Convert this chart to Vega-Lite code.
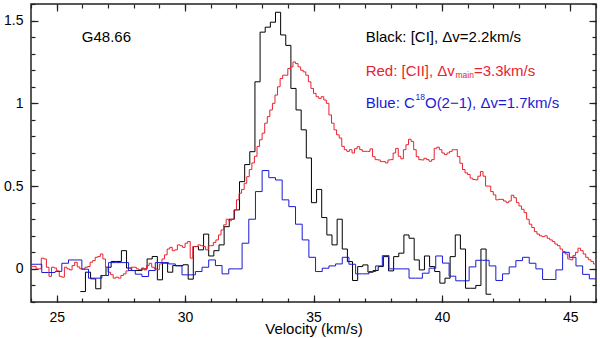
{
"$schema": "https://vega.github.io/schema/vega-lite/v6.json",
"width": 565, "height": 298,
"padding": {"left": 31, "top": 4, "right": 4, "bottom": 36},
"autosize": {"type": "none"},
"background": "white",
"config": {
  "view": {"stroke": "#222222", "strokeWidth": 1.5},
  "axis": {"grid": false, "domain": false, "tickColor": "#222222", "tickWidth": 1.2, "labelColor": "#000", "labelFont": "Liberation Sans", "labelFontSize": 14, "titleFont": "Liberation Sans", "titleFontSize": 15, "titleColor": "#000", "titleFontWeight": "normal"}
},
"datasets": {
"ci": [
{"v":25.92,"T":-0.137},{"v":26.12,"T":-0.02},{"v":26.32,"T":-0.06},{"v":26.52,"T":-0.12},{"v":26.72,"T":-0.04},{"v":26.92,"T":0.01},{"v":27.12,"T":0.045},{"v":27.32,"T":0.045},{"v":27.52,"T":0.11},{"v":27.72,"T":0.005},
{"v":27.92,"T":-0.01},{"v":28.12,"T":-0.01},{"v":28.32,"T":0.0},{"v":28.52,"T":0.06},{"v":28.72,"T":0.075},{"v":28.92,"T":-0.066},{"v":29.12,"T":0.035},{"v":29.32,"T":-0.02},{"v":29.52,"T":0.02},{"v":29.72,"T":0.02},
{"v":29.92,"T":0.025},{"v":30.12,"T":-0.062},{"v":30.32,"T":0.135},{"v":30.52,"T":0.115},{"v":30.72,"T":0.21},{"v":30.92,"T":0.078},{"v":31.12,"T":0.11},{"v":31.32,"T":0.145},{"v":31.52,"T":0.255},{"v":31.72,"T":0.30},
{"v":31.92,"T":0.356},{"v":32.12,"T":0.527},{"v":32.32,"T":0.63},{"v":32.52,"T":0.708},{"v":32.72,"T":1.13},{"v":32.92,"T":1.43},{"v":33.12,"T":1.46},{"v":33.32,"T":1.49},{"v":33.52,"T":1.55},{"v":33.72,"T":1.413},
{"v":33.92,"T":1.35},{"v":34.12,"T":1.09},{"v":34.32,"T":0.96},{"v":34.52,"T":0.84},{"v":34.72,"T":0.67},{"v":34.92,"T":0.40},{"v":35.12,"T":0.48},{"v":35.32,"T":0.31},{"v":35.52,"T":0.205},{"v":35.72,"T":0.145},
{"v":35.92,"T":0.30},{"v":36.12,"T":0.12},{"v":36.32,"T":0.044},{"v":36.52,"T":-0.07},{"v":36.72,"T":0.014},{"v":36.92,"T":0.024},{"v":37.12,"T":-0.02},{"v":37.32,"T":-0.01},{"v":37.52,"T":0.014},{"v":37.72,"T":0.074},
{"v":37.92,"T":-0.012},{"v":38.12,"T":0.074},{"v":38.32,"T":0.095},{"v":38.52,"T":0.205},{"v":38.72,"T":0.185},{"v":38.92,"T":0.054},{"v":39.12,"T":-0.006},{"v":39.32,"T":0.078},{"v":39.52,"T":0.014},{"v":39.72,"T":-0.016},
{"v":39.92,"T":-0.086},{"v":40.12,"T":-0.056},{"v":40.32,"T":0.074},{"v":40.52,"T":0.205},{"v":40.72,"T":0.12},{"v":40.92,"T":-0.117},{"v":41.12,"T":-0.117},{"v":41.32,"T":-0.10},{"v":41.52,"T":0.12},{"v":41.72,"T":-0.153},
{"v":41.92,"T":-0.153}
],
"cii": [
{"v":24.0,"T":0.015},{"v":24.1,"T":0.015},{"v":24.2,"T":0.0},{"v":24.3,"T":0.0},{"v":24.4,"T":0.065},{"v":24.5,"T":0.06},{"v":24.6,"T":0.01},{"v":24.7,"T":-0.045},{"v":24.8,"T":0.01},{"v":24.9,"T":0.005},
{"v":25.0,"T":-0.012},{"v":25.1,"T":-0.045},{"v":25.2,"T":-0.05},{"v":25.3,"T":0.01},{"v":25.4,"T":0.0},{"v":25.5,"T":-0.006},{"v":25.6,"T":0.02},{"v":25.7,"T":0.04},{"v":25.8,"T":0.012},{"v":25.9,"T":0.0},
{"v":26.0,"T":0.0},{"v":26.1,"T":0.01},{"v":26.2,"T":0.014},{"v":26.3,"T":0.04},{"v":26.4,"T":0.05},{"v":26.5,"T":0.07},{"v":26.6,"T":0.075},{"v":26.7,"T":0.09},{"v":26.8,"T":0.06},{"v":26.9,"T":0.01},
{"v":27.0,"T":-0.02},{"v":27.1,"T":-0.035},{"v":27.2,"T":-0.056},{"v":27.3,"T":-0.05},{"v":27.4,"T":-0.056},{"v":27.5,"T":-0.04},{"v":27.6,"T":-0.03},{"v":27.7,"T":-0.012},{"v":27.8,"T":-0.01},{"v":27.9,"T":0.01},
{"v":28.0,"T":0.01},{"v":28.1,"T":0.0},{"v":28.2,"T":-0.005},{"v":28.3,"T":0.005},{"v":28.4,"T":-0.006},{"v":28.5,"T":0.02},{"v":28.6,"T":0.034},{"v":28.7,"T":0.01},{"v":28.8,"T":0.0},{"v":28.9,"T":-0.005},
{"v":29.0,"T":0.03},{"v":29.1,"T":0.06},{"v":29.2,"T":0.085},{"v":29.3,"T":0.12},{"v":29.4,"T":0.13},{"v":29.5,"T":0.11},{"v":29.6,"T":0.115},{"v":29.7,"T":0.145},{"v":29.8,"T":0.14},{"v":29.9,"T":0.13},
{"v":30.0,"T":0.155},{"v":30.1,"T":0.165},{"v":30.2,"T":0.065},{"v":30.3,"T":0.135},{"v":30.4,"T":0.135},{"v":30.5,"T":0.145},{"v":30.6,"T":0.14},{"v":30.7,"T":0.135},{"v":30.8,"T":0.115},{"v":30.9,"T":0.14},
{"v":31.0,"T":0.14},{"v":31.1,"T":0.16},{"v":31.2,"T":0.175},{"v":31.3,"T":0.205},{"v":31.4,"T":0.235},{"v":31.5,"T":0.266},{"v":31.6,"T":0.30},{"v":31.7,"T":0.29},{"v":31.8,"T":0.30},{"v":31.9,"T":0.356},
{"v":32.0,"T":0.417},{"v":32.1,"T":0.457},{"v":32.2,"T":0.48},{"v":32.3,"T":0.517},{"v":32.4,"T":0.557},{"v":32.5,"T":0.60},{"v":32.6,"T":0.64},{"v":32.7,"T":0.68},{"v":32.8,"T":0.74},{"v":32.9,"T":0.78},
{"v":33.0,"T":0.82},{"v":33.1,"T":0.88},{"v":33.2,"T":0.92},{"v":33.3,"T":0.96},{"v":33.4,"T":1.0},{"v":33.5,"T":1.05},{"v":33.6,"T":1.10},{"v":33.7,"T":1.15},{"v":33.8,"T":1.17},{"v":33.9,"T":1.17},
{"v":34.0,"T":1.21},{"v":34.1,"T":1.22},{"v":34.2,"T":1.25},{"v":34.3,"T":1.24},{"v":34.4,"T":1.22},{"v":34.5,"T":1.20},{"v":34.6,"T":1.19},{"v":34.7,"T":1.17},{"v":34.8,"T":1.13},{"v":34.9,"T":1.09},
{"v":35.0,"T":1.06},{"v":35.1,"T":1.04},{"v":35.2,"T":1.03},{"v":35.3,"T":1.04},{"v":35.4,"T":1.02},{"v":35.5,"T":1.0},{"v":35.6,"T":0.93},{"v":35.7,"T":0.88},{"v":35.8,"T":0.84},{"v":35.9,"T":0.81},
{"v":36.0,"T":0.79},{"v":36.1,"T":0.74},{"v":36.2,"T":0.72},{"v":36.3,"T":0.71},{"v":36.4,"T":0.72},{"v":36.5,"T":0.70},{"v":36.6,"T":0.726},{"v":36.7,"T":0.738},{"v":36.8,"T":0.72},{"v":36.9,"T":0.71},
{"v":37.0,"T":0.71},{"v":37.1,"T":0.71},{"v":37.2,"T":0.725},{"v":37.3,"T":0.678},{"v":37.4,"T":0.66},{"v":37.5,"T":0.658},{"v":37.6,"T":0.648},{"v":37.7,"T":0.648},{"v":37.8,"T":0.64},{"v":37.9,"T":0.658},
{"v":38.0,"T":0.66},{"v":38.1,"T":0.70},{"v":38.2,"T":0.728},{"v":38.3,"T":0.68},{"v":38.4,"T":0.665},{"v":38.5,"T":0.72},{"v":38.6,"T":0.75},{"v":38.7,"T":0.783},{"v":38.8,"T":0.77},{"v":38.9,"T":0.72},
{"v":39.0,"T":0.678},{"v":39.1,"T":0.66},{"v":39.2,"T":0.658},{"v":39.3,"T":0.668},{"v":39.4,"T":0.66},{"v":39.5,"T":0.65},{"v":39.6,"T":0.66},{"v":39.7,"T":0.728},{"v":39.8,"T":0.735},{"v":39.9,"T":0.72},
{"v":40.0,"T":0.70},{"v":40.1,"T":0.69},{"v":40.2,"T":0.70},{"v":40.3,"T":0.71},{"v":40.4,"T":0.72},{"v":40.5,"T":0.72},{"v":40.6,"T":0.678},{"v":40.7,"T":0.638},{"v":40.8,"T":0.60},{"v":40.9,"T":0.58},
{"v":41.0,"T":0.57},{"v":41.1,"T":0.548},{"v":41.2,"T":0.54},{"v":41.3,"T":0.538},{"v":41.4,"T":0.56},{"v":41.5,"T":0.588},{"v":41.6,"T":0.56},{"v":41.7,"T":0.50},{"v":41.8,"T":0.50},{"v":41.9,"T":0.467},
{"v":42.0,"T":0.447},{"v":42.1,"T":0.417},{"v":42.2,"T":0.42},{"v":42.3,"T":0.42},{"v":42.4,"T":0.41},{"v":42.5,"T":0.40},{"v":42.6,"T":0.41},{"v":42.7,"T":0.445},{"v":42.8,"T":0.43},{"v":42.9,"T":0.40},
{"v":43.0,"T":0.38},{"v":43.1,"T":0.36},{"v":43.2,"T":0.34},{"v":43.3,"T":0.30},{"v":43.4,"T":0.27},{"v":43.5,"T":0.25},{"v":43.6,"T":0.225},{"v":43.7,"T":0.21},{"v":43.8,"T":0.2},{"v":43.9,"T":0.195},
{"v":44.0,"T":0.2},{"v":44.1,"T":0.185},{"v":44.2,"T":0.175},{"v":44.3,"T":0.165},{"v":44.4,"T":0.15},{"v":44.5,"T":0.14},{"v":44.6,"T":0.12},{"v":44.7,"T":0.105},{"v":44.8,"T":0.09},{"v":44.9,"T":0.06},
{"v":45.0,"T":0.055},{"v":45.1,"T":0.08},{"v":45.2,"T":0.10},{"v":45.3,"T":0.125},{"v":45.4,"T":0.11},{"v":45.5,"T":0.09},{"v":45.6,"T":0.07},{"v":45.7,"T":0.055},{"v":45.8,"T":0.045},{"v":45.9,"T":0.03},
{"v":46.0,"T":0.03}
],
"c18o": [
{"v":24.0,"T":0.028},{"v":24.16,"T":0.028},{"v":24.42,"T":-0.022},{"v":24.68,"T":-0.022},{"v":24.94,"T":-0.015},{"v":25.2,"T":0.034},{"v":25.46,"T":0.054},{"v":25.72,"T":0.054},{"v":25.98,"T":-0.002},{"v":26.24,"T":-0.056},
{"v":26.5,"T":-0.056},{"v":26.76,"T":-0.04},{"v":27.02,"T":0.038},{"v":27.28,"T":0.038},{"v":27.54,"T":0.038},{"v":27.8,"T":-0.01},{"v":28.06,"T":-0.032},{"v":28.32,"T":-0.046},{"v":28.58,"T":-0.01},{"v":28.84,"T":0.038},
{"v":29.1,"T":0.038},{"v":29.36,"T":0.03},{"v":29.62,"T":0.018},{"v":29.88,"T":-0.036},{"v":30.14,"T":-0.036},{"v":30.4,"T":-0.016},{"v":30.66,"T":0.01},{"v":30.92,"T":0.054},{"v":31.18,"T":0.02},{"v":31.44,"T":-0.03},
{"v":31.7,"T":0.0},{"v":31.96,"T":0.0},{"v":32.22,"T":0.155},{"v":32.48,"T":0.30},{"v":32.74,"T":0.467},{"v":33.0,"T":0.594},{"v":33.26,"T":0.551},{"v":33.52,"T":0.537},{"v":33.78,"T":0.417},{"v":34.04,"T":0.376},
{"v":34.3,"T":0.27},{"v":34.56,"T":0.175},{"v":34.82,"T":0.07},{"v":35.08,"T":-0.016},{"v":35.34,"T":0.004},{"v":35.6,"T":0.018},{"v":35.86,"T":0.03},{"v":36.12,"T":0.07},{"v":36.38,"T":0.028},{"v":36.64,"T":-0.03},
{"v":36.9,"T":-0.03},{"v":37.16,"T":-0.016},{"v":37.42,"T":0.018},{"v":37.68,"T":0.08},{"v":37.94,"T":0.0},{"v":38.2,"T":0.0},{"v":38.46,"T":0.0},{"v":38.72,"T":-0.056},{"v":38.98,"T":-0.056},{"v":39.24,"T":-0.026},
{"v":39.5,"T":0.004},{"v":39.76,"T":0.078},{"v":40.02,"T":0.035},{"v":40.28,"T":-0.044},{"v":40.54,"T":-0.072},{"v":40.8,"T":-0.072},{"v":41.06,"T":0.012},{"v":41.32,"T":0.052},{"v":41.58,"T":0.052},{"v":41.84,"T":0.018},
{"v":42.1,"T":-0.07},{"v":42.36,"T":-0.03},{"v":42.62,"T":0.012},{"v":42.88,"T":0.05},{"v":43.14,"T":0.07},{"v":43.4,"T":0.034},{"v":43.66,"T":0.0},{"v":43.92,"T":-0.064},{"v":44.18,"T":-0.064},{"v":44.44,"T":-0.006},
{"v":44.7,"T":0.10},{"v":44.96,"T":0.07},{"v":45.22,"T":0.018},{"v":45.48,"T":-0.033},{"v":45.74,"T":-0.06},{"v":46.0,"T":-0.06}
],
"labels": [
{"v":25.98,"T":1.40,"text":"G48.66","grp":"label"},
{"v":37.03,"T":1.403,"text":"Black: [CI], Δv=2.2km/s","grp":"CI"},
{"v":37.03,"T":1.197,"text":"Red: [CII], Δv","grp":"CII"},
{"v":41.25,"T":1.197,"text":"=3.3km/s","grp":"CII"},
{"v":37.03,"T":1.0,"text":"Blue: C","grp":"C18O"},
{"v":39.34,"T":1.0,"text":"O(2−1), Δv=1.7km/s","grp":"C18O"}
],
"small": [
{"v":40.53,"T":1.174,"text":"main","grp":"CII"},
{"v":38.97,"T":1.036,"text":"18","grp":"C18O"}
]
},
"resolve": {"axis": {"x": "independent", "y": "independent"}},
"layer": [
{
 "data": {"name": "ci"},
 "mark": {"type": "line", "interpolate": "step-after", "color": "#000000", "strokeWidth": 1, "clip": true},
 "encoding": {
  "x": {"field": "v", "type": "quantitative", "scale": {"domain": [24, 46], "nice": false, "zero": false},
        "axis": {"orient": "bottom", "values": [25, 30, 35, 40, 45], "tickSize": -7, "labelPadding": 15.5, "title": "Velocity (km/s)", "titlePadding": -3}},
  "y": {"field": "T", "type": "quantitative", "scale": {"domain": [-0.2, 1.6], "nice": false, "zero": false},
        "axis": {"orient": "left", "values": [0, 0.5, 1, 1.5], "format": "~g", "tickSize": -7, "labelPadding": 15, "title": null}}
 }
},
{
 "data": {"name": "cii"},
 "mark": {"type": "line", "interpolate": "step-after", "color": "#e8232e", "strokeWidth": 1, "clip": true},
 "encoding": {
  "x": {"field": "v", "type": "quantitative", "scale": {"domain": [24, 46], "nice": false, "zero": false},
        "axis": {"orient": "bottom", "values": [24,25,26,27,28,29,30,31,32,33,34,35,36,37,38,39,40,41,42,43,44,45,46], "tickSize": -4, "labels": false, "title": null}},
  "y": {"field": "T", "type": "quantitative", "scale": {"domain": [-0.2, 1.6], "nice": false, "zero": false},
        "axis": {"orient": "left", "values": [-0.2,-0.1,0,0.1,0.2,0.3,0.4,0.5,0.6,0.7,0.8,0.9,1,1.1,1.2,1.3,1.4,1.5,1.6], "tickSize": -4, "labels": false, "title": null}}
 }
},
{
 "data": {"name": "c18o"},
 "mark": {"type": "line", "interpolate": "step-after", "color": "#1a1ad6", "strokeWidth": 1, "clip": true},
 "encoding": {
  "x": {"field": "v", "type": "quantitative", "scale": {"domain": [24, 46], "nice": false, "zero": false},
        "axis": {"orient": "top", "values": [25, 30, 35, 40, 45], "tickSize": -7, "labels": false, "title": null}},
  "y": {"field": "T", "type": "quantitative", "scale": {"domain": [-0.2, 1.6], "nice": false, "zero": false},
        "axis": {"orient": "right", "values": [0, 0.5, 1, 1.5], "tickSize": -7, "labels": false, "title": null}}
 }
},
{
 "data": {"name": "labels"},
 "mark": {"type": "text", "align": "left", "baseline": "middle", "font": "Liberation Sans", "fontSize": 15},
 "encoding": {
  "x": {"field": "v", "type": "quantitative", "scale": {"domain": [24, 46], "nice": false, "zero": false},
        "axis": {"orient": "top", "values": [24,25,26,27,28,29,30,31,32,33,34,35,36,37,38,39,40,41,42,43,44,45,46], "tickSize": -4, "labels": false, "title": null}},
  "y": {"field": "T", "type": "quantitative", "scale": {"domain": [-0.2, 1.6], "nice": false, "zero": false},
        "axis": {"orient": "right", "values": [-0.2,-0.1,0,0.1,0.2,0.3,0.4,0.5,0.6,0.7,0.8,0.9,1,1.1,1.2,1.3,1.4,1.5,1.6], "tickSize": -4, "labels": false, "title": null}},
  "text": {"field": "text"},
  "color": {"field": "grp", "type": "nominal", "scale": {"domain": ["label", "CI", "CII", "C18O"], "range": ["#000000", "#000000", "#e8232e", "#1a1ad6"]}, "legend": null}
 }
},
{
 "data": {"name": "small"},
 "mark": {"type": "text", "align": "left", "baseline": "middle", "font": "Liberation Sans", "fontSize": 8.5},
 "encoding": {
  "x": {"field": "v", "type": "quantitative", "scale": {"domain": [24, 46], "nice": false, "zero": false}, "axis": null},
  "y": {"field": "T", "type": "quantitative", "scale": {"domain": [-0.2, 1.6], "nice": false, "zero": false}, "axis": null},
  "text": {"field": "text"},
  "color": {"field": "grp", "type": "nominal", "scale": {"domain": ["label", "CI", "CII", "C18O"], "range": ["#000000", "#000000", "#e8232e", "#1a1ad6"]}, "legend": null}
 }
}
]
}
